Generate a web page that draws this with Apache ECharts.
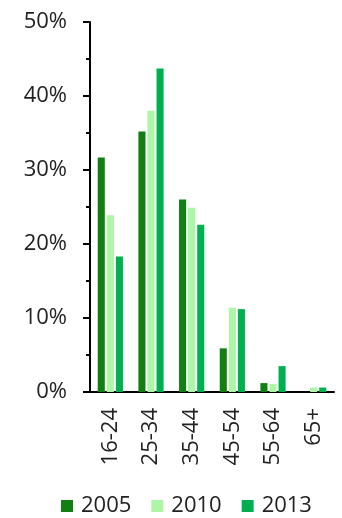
<!DOCTYPE html>
<html><head><meta charset="utf-8">
<script src="https://cdn.jsdelivr.net/npm/echarts@6/dist/echarts.min.js"></script>
<style>html,body{margin:0;padding:0;background:#fff}#c{width:342px;height:518px}</style>
</head><body><div id="c"></div>
<script>
const categories = ['16-24','25-34','35-44','45-54','55-64','65+'];
const s2005 = [31.7, 35.2, 26.0, 5.9, 1.2, 0];
const s2010 = [23.9, 38.0, 24.9, 11.4, 1.1, 0.6];
const s2013 = [18.3, 43.7, 22.6, 11.2, 3.5, 0.6];
const seriesNames = ['2005','2010','2013'];
const colors = ['#127f12','#adf5a7','#00b050'];
const font = '"Open Sans", "Noto Sans", sans-serif';
const chart = echarts.init(document.getElementById('c'));
chart.setOption({
  animation: false,
  color: colors,
  grid: {left: 90, right: 8, top: 22, bottom: 126, containLabel: false},
  legend: {
    top: 495, left: 61, itemWidth: 12, itemHeight: 12, itemGap: 20,
    icon: 'rect', padding: 0,
    textStyle: {fontFamily: font, fontSize: 22, color: '#222', padding: [0,0,0,3]},
    data: seriesNames
  },
  xAxis: {
    type: 'category', data: categories,
    axisLine: {lineStyle: {color: '#000', width: 2}},
    axisTick: {show: false},
    axisLabel: {rotate: 90, margin: 16, fontFamily: font, fontSize: 22, color: '#222'}
  },
  yAxis: {
    type: 'value', min: 0, max: 50, interval: 10,
    axisLine: {show: true, lineStyle: {color: '#000', width: 2}},
    axisTick: {show: true, length: 7, lineStyle: {color: '#000', width: 2}},
    minorTick: {show: true, splitNumber: 2, length: 4, lineStyle: {color: '#000', width: 2}},
    splitLine: {show: false},
    axisLabel: {formatter: '{value}%', margin: 23, fontFamily: font, fontSize: 22, color: '#222'}
  },
  series: [
    {name: seriesNames[0], type: 'bar', data: s2005, barGap: '28%', barCategoryGap: '38%'},
    {name: seriesNames[1], type: 'bar', data: s2010, barGap: '28%', barCategoryGap: '38%'},
    {name: seriesNames[2], type: 'bar', data: s2013, barGap: '28%', barCategoryGap: '38%'}
  ]
});
</script></body></html>
